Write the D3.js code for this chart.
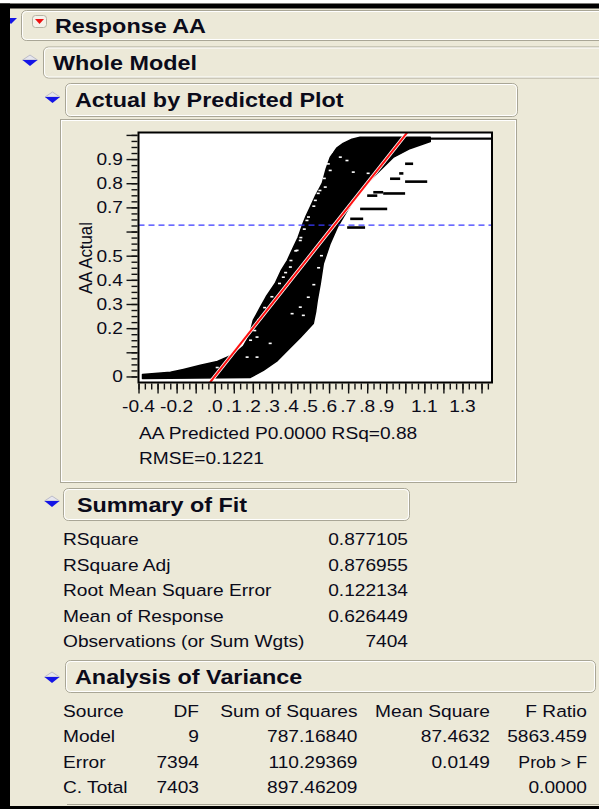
<!DOCTYPE html>
<html><head><meta charset="utf-8">
<script src="https://cdn.jsdelivr.net/npm/d3@7"></script>
<style>
html,body{margin:0;padding:0;background:#fff;}
svg{display:block;}
text{font-family:Arial,"Liberation Sans",sans-serif;}
</style></head><body>
<svg id="c" width="599" height="809"></svg>
<script>
// ---------------- data ----------------
const meanResponse = 0.626449;
const xTickMajor = d3.range(-4, 15).map(d => d / 10);
const xTickMinor = d3.range(-12, 44).map(d => d / 30);
const xTickLabelVals = [-0.4, -0.2, 0, 0.1, 0.2, 0.3, 0.4, 0.5, 0.6, 0.7, 0.8, 0.9, 1.1, 1.3];
const xTickLabels = ["-0.4", "-0.2", ".0", ".1", ".2", ".3", ".4", ".5", ".6", ".7", ".8", ".9", "1.1", "1.3"];
const yTickMajor = d3.range(0, 11).map(d => d / 10);
const yTickMinor = d3.range(0, 41).map(d => d / 40);
const yTickLabelVals = [0, 0.2, 0.3, 0.4, 0.5, 0.7, 0.8, 0.9];
const yTickLabels = ["0", "0.2", "0.3", "0.4", "0.5", "0.7", "0.8", "0.9"];
// upper (left) edge of the point cloud: [predicted, actual]
const cloudUpper = [[-0.379,0.008],[-0.232,0.017],[-0.164,0.029],[-0.075,0.046],[0.014,0.062],[0.098,0.091],
  [0.150,0.125],[0.171,0.153],[0.190,0.195],[0.202,0.232],[0.239,0.286],[0.270,0.330],[0.317,0.385],
  [0.350,0.440],[0.381,0.480],[0.410,0.530],[0.438,0.576],[0.464,0.634],[0.480,0.665],
  [0.501,0.700],[0.530,0.750],[0.564,0.799],[0.585,0.860],[0.606,0.907],[0.640,0.945],[0.674,0.965],
  [0.720,0.982],[0.763,0.990],[1.131,0.990]];
// lower (right) edge of the point cloud: [predicted, actual]
const cloudLower = [[-0.379,-0.008],[0.187,-0.004],[0.255,0.025],[0.329,0.066],[0.381,0.108],[0.449,0.161],
  [0.517,0.219],[0.530,0.270],[0.538,0.315],[0.554,0.385],[0.570,0.468],[0.606,0.551],[0.643,0.617],
  [0.695,0.687],[0.763,0.770],[0.852,0.841],[0.936,0.907],[1.026,0.944],[1.131,0.973]];
// run of points at actual ~ 1: [predStart, predEnd, actual]
const topRun = [[1.10, 1.455, 0.985]];
// separated runs of points to the right of the cloud: [predStart, predEnd, actual]
const outlierRuns = [[0.999,1.041,0.881],[0.920,0.973,0.819],[0.999,1.115,0.807],[0.832,0.884,0.763],
  [0.800,0.853,0.749],[0.884,0.999,0.758],[0.763,0.905,0.694],[0.711,0.779,0.653],[0.695,0.789,0.617],
  [0.968,0.990,0.841]];
// small gaps between points inside the cloud: [predicted, actual]
const cloudGaps = [[0.659,0.908],[0.694,0.894],[0.606,0.853],[0.580,0.784],[0.543,0.758],[0.528,0.729],
  [0.805,0.841],[0.799,0.784],[0.727,0.846],[0.484,0.646],[0.449,0.563],[0.432,0.522],[0.397,0.453],
  [0.360,0.411],[0.642,0.551],[0.622,0.509],[0.406,0.260],[0.465,0.253],[0.449,0.287],[0.222,0.080],
  [0.291,0.137],[0.491,0.328],[0.013,0.037],[0.170,0.080],[0.222,0.163],
  [0.612,0.930],[0.596,0.880],[0.575,0.820],[0.552,0.770],[0.520,0.705],[0.492,0.660],[0.470,0.610],
  [0.452,0.575],[0.425,0.520],[0.400,0.480],[0.372,0.430],[0.340,0.385],[0.300,0.330],[0.262,0.285],
  [0.232,0.235],[0.210,0.190],[0.188,0.150],[0.545,0.450],[0.560,0.500],[0.520,0.380]];

const fitLabels = ["RSquare", "RSquare Adj", "Root Mean Square Error", "Mean of Response", "Observations (or Sum Wgts)"];
const fitValues = ["0.877105", "0.876955", "0.122134", "0.626449", "7404"];

const anovaHeader = ["Source", "DF", "Sum of Squares", "Mean Square", "F Ratio"];
const anovaSource = ["Model", "Error", "C. Total"];
const anovaDF = ["9", "7394", "7403"];
const anovaSS = ["787.16840", "110.29369", "897.46209"];
const anovaMS = ["87.4632", "0.0149", ""];
const anovaF = ["5863.459", "Prob > F", "0.0000"];

// ---------------- drawing ----------------
const W = 599, H = 809, BG = "#ECE9D8", INK = "#0b0b1a";
const SX = 1.14;
const svg = d3.select("#c");

function T(g, x, y, s, o = {}) {
  return g.append("text")
    .attr("transform", `translate(${x},${y}) scale(${o.sx || SX},1)` + (o.rot ? ` rotate(${o.rot})` : ""))
    .attr("text-anchor", o.anchor || "start")
    .attr("font-size", o.size || 16.8)
    .attr("font-weight", o.weight || "normal")
    .attr("fill", o.fill || INK)
    .text(s);
}
function box(x, y, w, h) {
  svg.append("rect").attr("x", x + 0.5).attr("y", y + 0.5).attr("width", w).attr("height", h)
    .attr("rx", 5).attr("fill", BG).attr("stroke", "#a9a696").attr("stroke-width", 1);
  svg.append("rect").attr("x", x + 1.5).attr("y", y + 1.5).attr("width", w - 2).attr("height", h - 2)
    .attr("rx", 4).attr("fill", "none").attr("stroke", "#ffffff").attr("stroke-width", 1);
}
function disclosure(cx, cy) {
  const hw = 7.5, hh = 5;
  svg.append("path").attr("d", `M${cx-hw},${cy} L${cx},${cy-hh} L${cx+hw},${cy} Z`)
    .attr("fill", "#e6e6ee").attr("stroke", "#b0b0c0").attr("stroke-width", 0.8);
  svg.append("path").attr("d", `M${cx-hw},${cy} L${cx+hw},${cy} L${cx},${cy+hh+1} Z`)
    .attr("fill", "#1414e6");
}

svg.append("rect").attr("width", W).attr("height", H).attr("fill", BG);

// outline headers
box(21, 10, 620, 30);
box(43, 46.5, 620, 31);
box(65, 83, 452, 33);
svg.append("rect").attr("x", 32.5).attr("y", 15.5).attr("width", 14).attr("height", 12).attr("rx", 3)
  .attr("fill", "#f4f2ea").attr("stroke", "#b6b3a4");
svg.append("path").attr("d", "M35,19 L44,19 L39.5,24 Z").attr("fill", "#ee1111");
T(svg, 55, 33, "Response AA", {size: 20.5, weight: "bold"});
disclosure(30, 60);
T(svg, 53, 70, "Whole Model", {size: 20.5, weight: "bold"});
disclosure(52.5, 97);
T(svg, 75, 106.5, "Actual by Predicted Plot", {size: 20.5, weight: "bold"});

// plot panel
svg.append("rect").attr("x", 60.5).attr("y", 119.5).attr("width", 456).attr("height", 363)
  .attr("fill", BG).attr("stroke", "#a9a696");
svg.append("rect").attr("x", 61.5).attr("y", 120.5).attr("width", 454).attr("height", 361)
  .attr("fill", "none").attr("stroke", "#ffffff");

const x = d3.scaleLinear().domain([-0.4, 1.455]).range([138.5, 492]);
const y = d3.scaleLinear().domain([-0.025, 1.01]).range([382.5, 132.5]);

svg.append("rect").attr("x", 138.5).attr("y", 132.5).attr("width", 353.5).attr("height", 250).attr("fill", "#fff");
svg.append("clipPath").attr("id", "clip").append("rect")
  .attr("x", 138.5).attr("y", 132.5).attr("width", 353.5).attr("height", 250);
const P = svg.append("g").attr("clip-path", "url(#clip)");

const line = d3.line().x(d => x(d[0])).y(d => y(d[1]));
const poly = cloudUpper.concat(cloudLower.slice().reverse());
P.append("path").attr("d", line(poly) + "Z").attr("fill", "#000").attr("stroke", "#000").attr("stroke-width", 1.5)
  .attr("stroke-linejoin", "round");
P.selectAll("rect.top").data(topRun).join("rect").attr("class", "top")
  .attr("x", d => x(d[0])).attr("width", d => x(d[1]) - x(d[0]))
  .attr("y", d => y(d[2]) - 1).attr("height", 2.2).attr("fill", "#000");
P.selectAll("rect.out").data(outlierRuns).join("rect").attr("class", "out")
  .attr("x", d => x(d[0])).attr("width", d => x(d[1]) - x(d[0]))
  .attr("y", d => y(d[2]) - 1.2).attr("height", 2.6).attr("fill", "#000");
P.selectAll("rect.gap").data(cloudGaps).join("rect").attr("class", "gap")
  .attr("x", d => x(d[0]) - 1.5).attr("width", 3)
  .attr("y", d => y(d[1]) - 0.8).attr("height", 1.6).attr("fill", "#fff");

// mean line
P.append("line").attr("x1", x(-0.4)).attr("x2", x(1.455)).attr("y1", y(meanResponse)).attr("y2", y(meanResponse))
  .attr("stroke", "#3a3aff").attr("stroke-width", 1.3).attr("stroke-dasharray", "6,4");
// fit line actual = predicted
const fitEnds = [[-0.05, -0.05], [1.05, 1.05]];
P.append("path").attr("d", line(fitEnds)).attr("stroke", "#fff").attr("stroke-width", 3.6).attr("fill", "none");
P.append("path").attr("d", line(fitEnds)).attr("stroke", "#ff1010").attr("stroke-width", 2).attr("fill", "none");

// frame
svg.append("rect").attr("x", 138.5).attr("y", 132.5).attr("width", 353.5).attr("height", 250)
  .attr("fill", "none").attr("stroke", "#000").attr("stroke-width", 2);

// axes ticks
const gy = svg.append("g").attr("transform", "translate(137.5,0)");
gy.append("g").call(d3.axisLeft(y).tickValues(yTickMinor).tickSize(6).tickFormat(""));
gy.append("g").call(d3.axisLeft(y).tickValues(yTickMajor).tickSize(11).tickFormat(""));
gy.selectAll(".domain").remove();
gy.selectAll("line").attr("stroke", "#111").attr("stroke-width", 1.4);

const gx = svg.append("g").attr("transform", "translate(0,383.5)");
gx.append("g").call(d3.axisBottom(x).tickValues(xTickMinor.filter(v => v <= 1.455)).tickSize(6).tickFormat(""));
gx.append("g").call(d3.axisBottom(x).tickValues(xTickMajor).tickSize(10).tickFormat(""));
gx.selectAll(".domain").remove();
gx.selectAll("line").attr("stroke", "#111").attr("stroke-width", 1.4);

yTickLabelVals.forEach((v, i) => T(svg, 123, y(v) + 6, yTickLabels[i], {anchor: "end"}));
xTickLabelVals.forEach((v, i) => T(svg, x(v), 411.5, xTickLabels[i], {anchor: "middle"}));
T(svg, 92, 258, "AA Actual", {anchor: "middle", rot: -90});
T(svg, 139, 438.5, "AA Predicted P0.0000 RSq=0.88");
T(svg, 139, 463.5, "RMSE=0.1221");

// summary of fit
box(63, 488, 346, 32);
disclosure(52, 501);
T(svg, 77, 511.5, "Summary of Fit", {size: 20.5, weight: "bold"});
fitLabels.forEach((s, i) => {
  T(svg, 63, 545 + i * 25.5, s);
  T(svg, 408, 545 + i * 25.5, fitValues[i], {anchor: "end"});
});

// analysis of variance
box(65, 660, 530, 32);
disclosure(52, 677);
T(svg, 75, 683.5, "Analysis of Variance", {size: 20.5, weight: "bold"});
const colRight = [null, 199, 357.5, 490, 587];
anovaHeader.forEach((s, j) => {
  if (j === 0) T(svg, 63, 717, s); else T(svg, colRight[j], 717, s, {anchor: "end"});
});
anovaSource.forEach((s, i) => {
  const yy = 742 + i * 25.5;
  T(svg, 63, yy, s);
  T(svg, colRight[1], yy, anovaDF[i], {anchor: "end"});
  T(svg, colRight[2], yy, anovaSS[i], {anchor: "end"});
  T(svg, colRight[3], yy, anovaMS[i], {anchor: "end"});
  T(svg, colRight[4], yy, anovaF[i], {anchor: "end", size: anovaF[i] === "Prob > F" ? 15.6 : 16.8});
});
svg.append("line").attr("x1", 67).attr("x2", 599).attr("y1", 804.5).attr("y2", 804.5).attr("stroke", "#a9a696");

// partial icon at far left and window border
svg.append("path").attr("d", "M5,18 L17,18 L11,24 Z").attr("fill", "#1414e6");
svg.append("rect").attr("x", 0).attr("y", 0).attr("width", W).attr("height", 3.5).attr("fill", "#fff");
svg.append("rect").attr("x", 0).attr("y", 3.5).attr("width", W).attr("height", 5).attr("fill", "#000");
svg.append("rect").attr("x", 0).attr("y", 3.5).attr("width", 10).attr("height", H).attr("fill", "#000");
svg.append("rect").attr("x", 0).attr("y", 806).attr("width", W).attr("height", 3).attr("fill", "#000");
</script>
</body></html>
